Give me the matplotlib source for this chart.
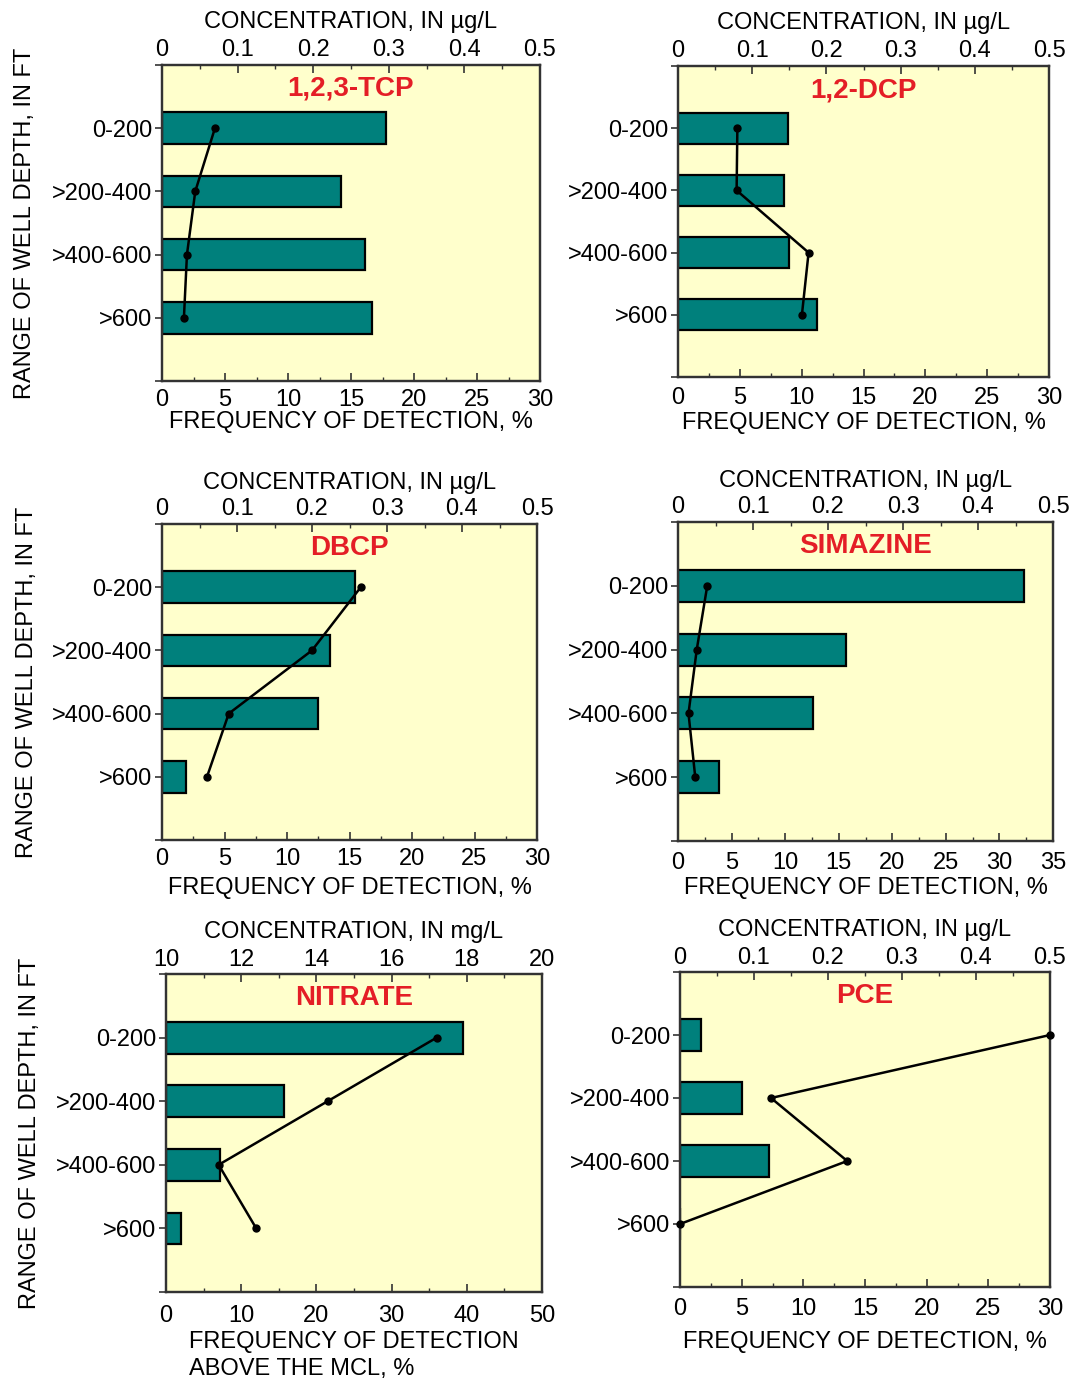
import matplotlib.pyplot as plt
from matplotlib.ticker import MultipleLocator

plt.rcParams['font.family'] = ['Liberation Sans', 'DejaVu Sans']
plt.rcParams['font.size'] = 17

# rangos de profundidad (de arriba a abajo)
depths = ['0-200', '>200-400', '>400-600', '>600']

# frecuencia de deteccion (%) y concentracion (ug/L o mg/L)
tcp_freq = [17.8, 14.2, 16.1, 16.7]
tcp_conc = [0.070, 0.044, 0.033, 0.029]
dcp_freq = [8.9, 8.6, 9.0, 11.2]
dcp_conc = [0.080, 0.079, 0.176, 0.167]
dbcp_freq = [15.4, 13.4, 12.5, 1.9]
dbcp_conc = [0.265, 0.200, 0.089, 0.060]
sim_freq = [32.3, 15.7, 12.6, 3.8]
sim_conc = [0.039, 0.025, 0.014, 0.023]
nit_freq = [39.5, 15.7, 7.2, 2.0]
nit_conc = [17.2, 14.3, 11.4, 12.4]
pce_freq = [1.7, 5.0, 7.2, 0.0]
pce_conc = [0.50, 0.123, 0.226, 0.0]

W, H = 1073, 1383
BG = '#ffffcc'
TEAL = '#00807c'
RED = '#e41e26'
SPINE = '#333333'

conc_ug = 'CONCENTRATION, IN µg/L'
freq_lbl = 'FREQUENCY OF DETECTION, %'

# (titulo, frec, conc, caja px [izq, der, arriba, abajo], xmax, paso, conc lim, paso conc,
#  etiqueta arriba, etiqueta abajo, pad ticks arriba, pad arriba, pad ticks abajo, pad abajo)
panels = [
    ('1,2,3-TCP', tcp_freq, tcp_conc, (162, 540, 65, 381), 30, 5, (0, 0.5), 0.1,
     conc_ug, freq_lbl, 3, 8, 6, 0),
    ('1,2-DCP', dcp_freq, dcp_conc, (678, 1049, 66, 377), 30, 5, (0, 0.5), 0.1,
     conc_ug, freq_lbl, 3, 8, 7, 2),
    ('DBCP', dbcp_freq, dbcp_conc, (162, 537, 524, 840), 30, 5, (0, 0.5), 0.1,
     conc_ug, freq_lbl, 3, 6, 6, 5),
    ('SIMAZINE', sim_freq, sim_conc, (678, 1053, 522, 841), 35, 5, (0, 0.5), 0.1,
     conc_ug, freq_lbl, 3, 6, 8, 2),
    ('NITRATE', nit_freq, nit_conc, (166, 542, 974, 1292), 50, 10, (10, 20), 2,
     'CONCENTRATION, IN mg/L', 'FREQUENCY OF DETECTION\nABOVE THE MCL, %', 2, 8, 9, 3),
    ('PCE', pce_freq, pce_conc, (680, 1050, 972, 1287), 30, 5, (0, 0.5), 0.1,
     conc_ug, freq_lbl, 2, 8, 8, 8),
]

fig = plt.figure(figsize=(W / 100, H / 100), dpi=100)

ypos = list(range(len(depths)))

for i, (title, freq, conc, box, xmax, xstep, clim, cstep, top_lbl, bot_lbl,
        ttpad, tpad, btpad, bpad) in enumerate(panels):
    l, r, t, b = box
    ax = fig.add_axes([l / W, 1 - b / H, (r - l) / W, (b - t) / H])
    ax.set_facecolor(BG)
    ax.barh(ypos, freq, height=0.5, color=TEAL, edgecolor='black', linewidth=1.6, zorder=2)
    ax.set_xlim(0, xmax)
    ax.set_ylim(4, -1)
    ax.set_yticks([-1] + ypos + [4])
    ax.set_yticklabels([''] + depths + [''])
    ax.xaxis.set_major_locator(MultipleLocator(xstep))
    ax.xaxis.set_minor_locator(MultipleLocator(xstep / 2))
    ax.xaxis.set_ticks_position('bottom')
    ax.tick_params(axis='x', which='major', direction='in', length=6, width=1.2, pad=btpad, colors=SPINE, labelcolor='black')
    ax.tick_params(axis='x', which='minor', direction='in', length=3, width=1.0, colors=SPINE)
    ax.tick_params(axis='y', which='major', direction='out', length=5, width=1.2, pad=2, colors=SPINE, labelcolor='black')
    ax.set_xlabel(bot_lbl, labelpad=bpad, multialignment='left', linespacing=1.3)
    for s in ax.spines.values():
        s.set_linewidth(1.6)
        s.set_color(SPINE)

    ax2 = ax.twiny()
    ax2.plot(conc, ypos, color='black', linewidth=1.8, marker='o', markersize=5, clip_on=False, zorder=5)
    ax2.set_xlim(*clim)
    ax2.xaxis.set_major_locator(MultipleLocator(cstep))
    ax2.xaxis.set_minor_locator(MultipleLocator(cstep / 2))
    ax2.tick_params(axis='x', which='major', direction='in', length=6, width=1.2, pad=ttpad, colors=SPINE, labelcolor='black')
    ax2.tick_params(axis='x', which='minor', direction='in', length=3, width=1.0, colors=SPINE)
    if clim[1] < 1:
        ax2.set_xticklabels(['0' if v == 0 else f'{v:.1f}' for v in ax2.get_xticks()])
    ax2.set_xlabel(top_lbl, labelpad=tpad)
    for s in ax2.spines.values():
        s.set_linewidth(1.6)
        s.set_color(SPINE)

    ax.text(0.5, 1 - 24 / (b - t), title, transform=ax.transAxes, ha='center', va='center',
            fontsize=20, fontweight='bold', color=RED, zorder=6)

    if i % 2 == 0:
        fig.text((25 + 2.5 * (i // 2)) / W, 1 - ((t + b) / 2) / H, 'RANGE OF WELL DEPTH, IN FT',
                 rotation=90, ha='center', va='center', fontsize=17)

fig.savefig('out.png', dpi=100, facecolor='white')
